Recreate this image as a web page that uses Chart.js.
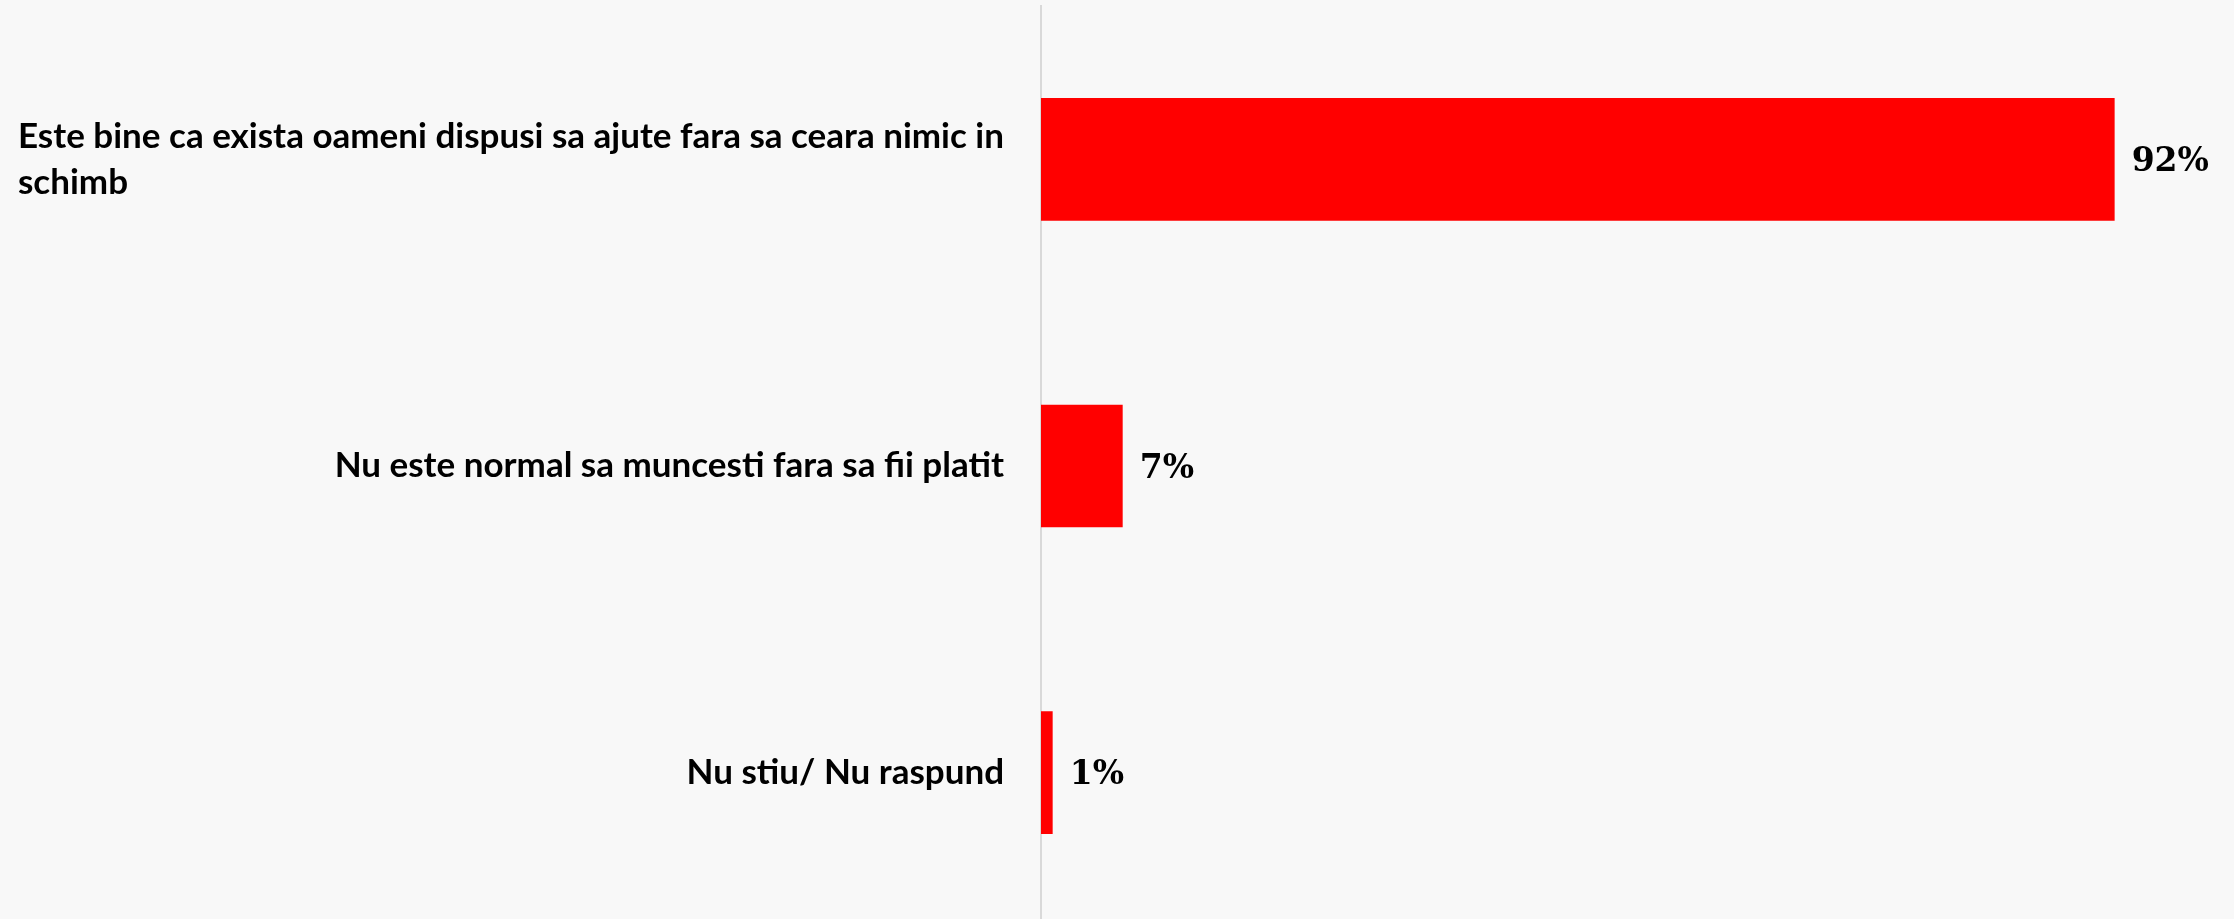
<!DOCTYPE html>
<html>
<head>
<meta charset="utf-8">
<script src="https://cdn.jsdelivr.net/npm/chart.js@4.4.1/dist/chart.umd.min.js"></script>
<style>
  html, body { margin: 0; padding: 0; background: #f8f8f8; overflow: hidden; }
  #wrap { width: 2234px; height: 926px; position: relative; }
</style>
</head>
<body>
<div id="wrap"><canvas id="c"></canvas></div>
<script>
const categories = [
  ['Este bine ca exista oameni dispusi sa ajute fara sa ceara nimic in', 'schimb'],
  'Nu este normal sa muncesti fara sa fii platit',
  'Nu stiu/ Nu raspund'
];
const values = [92, 7, 1];
const valueLabels = ['92%', '7%', '1%'];

const labelFont = 'bold 35px Lato';
const valueFont = 'bold 33px "DejaVu Serif"';

const labelsPlugin = {
  id: 'customLabels',
  afterDatasetsDraw(chart) {
    const ctx = chart.ctx;
    const y = chart.scales.y;
    const meta = chart.getDatasetMeta(0);
    ctx.save();
    ctx.fillStyle = '#000';
    ctx.font = labelFont;
    const rightEdge = chart.chartArea.left - 37;
    const lineH = 46;
    categories.forEach((lab, i) => {
      const cy = y.getPixelForValue(i);
      const lines = Array.isArray(lab) ? lab : [lab];
      const maxW = Math.max(...lines.map(l => ctx.measureText(l).width));
      ctx.textBaseline = 'middle';
      if (lines.length === 1) {
        ctx.textAlign = 'right';
        ctx.fillText(lines[0], rightEdge, cy);
      } else {
        ctx.textAlign = 'left';
        const x0 = rightEdge - maxW;
        const start = cy - (lines.length - 1) * lineH / 2;
        lines.forEach((l, k) => ctx.fillText(l, x0, start + k * lineH));
      }
    });
    ctx.font = valueFont;
    ctx.textAlign = 'left';
    ctx.textBaseline = 'middle';
    meta.data.forEach((bar, i) => {
      ctx.fillText(valueLabels[i], bar.x + 17, bar.y + 3);
    });
    ctx.restore();
  }
};

new Chart(document.getElementById('c'), {
  type: 'bar',
  data: {
    labels: categories,
    datasets: [{
      data: values,
      backgroundColor: '#ff0000',
      borderWidth: 0,
      categoryPercentage: 1,
      barPercentage: 0.4
    }]
  },
  options: {
    indexAxis: 'y',
    responsive: true,
    maintainAspectRatio: false,
    animation: false,
    layout: { padding: { top: 6, right: 26, bottom: 0, left: 0 } },
    plugins: { legend: { display: false }, tooltip: { enabled: false } },
    scales: {
      x: { min: 0, max: 100, display: false },
      y: {
        type: 'category',
        grid: { display: false, drawTicks: false },
        border: { display: true, color: '#d9d9d9', width: 2 },
        ticks: { display: false },
        afterFit(scale) { scale.width = 1041; }
      }
    }
  },
  plugins: [labelsPlugin]
});
</script>
</body>
</html>
